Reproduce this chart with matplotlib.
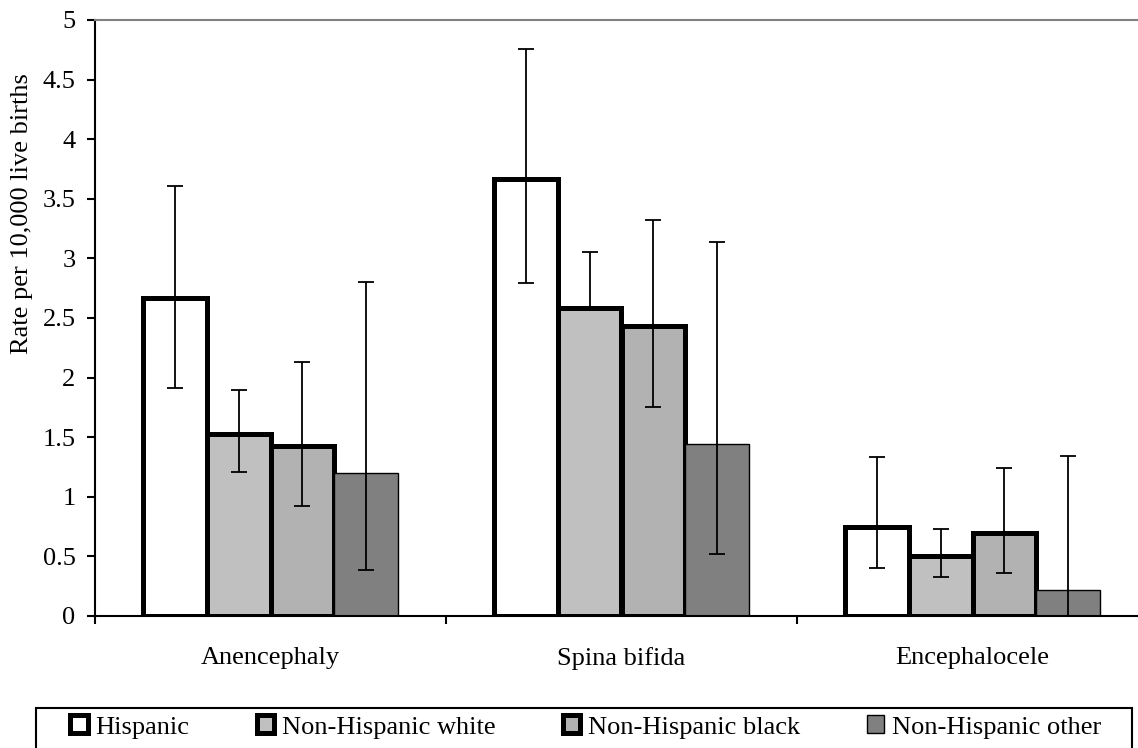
import numpy as np
import matplotlib
matplotlib.use("Agg")
import matplotlib.pyplot as plt
from matplotlib.patches import Rectangle

plt.rcParams['font.family'] = ['Liberation Serif', 'DejaVu Serif']

# taux pour 10 000 naissances vivantes, par malformation et par groupe
categories = ["Anencephaly", "Spina bifida", "Encephalocele"]
groupes = ["Hispanic", "Non-Hispanic white", "Non-Hispanic black", "Non-Hispanic other"]

taux = {
    "Hispanic":           [2.67, 3.67, 0.75],
    "Non-Hispanic white": [1.53, 2.58, 0.50],
    "Non-Hispanic black": [1.43, 2.43, 0.70],
    "Non-Hispanic other": [1.20, 1.44, 0.22],
}
# bornes basses / hautes des intervalles de confiance
ic_bas = {
    "Hispanic":           [1.91, 2.79, 0.40],
    "Non-Hispanic white": [1.21, 2.58, 0.33],
    "Non-Hispanic black": [0.92, 1.75, 0.36],
    "Non-Hispanic other": [0.39, 0.52, 0.00],
}
ic_haut = {
    "Hispanic":           [3.61, 4.76, 1.33],
    "Non-Hispanic white": [1.90, 3.05, 0.73],
    "Non-Hispanic black": [2.13, 3.32, 1.24],
    "Non-Hispanic other": [2.80, 3.14, 1.34],
}

couleurs = ["#FFFFFF", "#C0C0C0", "#B2B2B2", "#808080"]
epaisseurs = [3.6, 3.6, 3.6, 1.0]

fig = plt.figure(figsize=(11.38, 7.48), dpi=100)
ax = fig.add_axes([95 / 1138, 1 - 616 / 748, 1053 / 1138, 596 / 748])

x = np.arange(len(categories))
largeur = 0.182

for i, g in enumerate(groupes):
    pos = x + (i - 1.5) * largeur
    vals = np.array(taux[g])
    bas = vals - np.array(ic_bas[g])
    haut = np.array(ic_haut[g]) - vals
    ax.bar(pos, vals, largeur, color=couleurs[i], edgecolor="black",
           linewidth=epaisseurs[i], label=g, zorder=2)
    ax.errorbar(pos, vals, yerr=[bas, haut], fmt="none", ecolor="black",
                elinewidth=1.3, capsize=5.7, capthick=1.3, zorder=3)

ax.set_xlim(-0.5, 2.5)
ax.set_ylim(0, 5)
ax.set_yticks(np.arange(0, 5.01, 0.5))
ax.set_yticklabels(["0", "0.5", "1", "1.5", "2", "2.5", "3", "3.5", "4", "4.5", "5"])

# graduations entre les catégories, libellés au centre
ax.set_xticks([-0.5, 0.5, 1.5, 2.5])
ax.set_xticklabels([])
ax.set_xticks(x, minor=True)
ax.set_xticklabels(categories, minor=True)
ax.tick_params(axis="x", which="major", direction="out", length=6, width=1.5)
ax.tick_params(axis="x", which="minor", length=0, pad=22, labelsize=19)
ax.tick_params(axis="y", direction="out", length=6, width=1.5, labelsize=19, pad=8)

ax.spines["right"].set_visible(False)
ax.spines["top"].set_color("#808080")
ax.spines["top"].set_linewidth(1.5)
ax.spines["left"].set_linewidth(1.5)
ax.spines["bottom"].set_linewidth(1.5)

ax.set_ylabel("Rate per 10,000 live births", fontsize=19)
ax.yaxis.set_label_coords(-0.059, 0.676)

# légende en bas, dans un cadre
leg = fig.legend(loc="center", ncol=4, bbox_to_anchor=(0.515, 1 - 727 / 748),
                 frameon=False, fontsize=19, handlelength=0.65, handleheight=0.65,
                 handletextpad=0.3, columnspacing=2.55, borderaxespad=0)
for h in leg.legend_handles:
    h.set_linewidth(min(h.get_linewidth(), 4.0))
fig.patches.append(Rectangle((36 / 1138, -0.01), (1132 - 36) / 1138, (748 - 708) / 748 + 0.01,
                             transform=fig.transFigure, fill=False, edgecolor="black",
                             linewidth=1.5))

fig.savefig("out.png", dpi=100)
